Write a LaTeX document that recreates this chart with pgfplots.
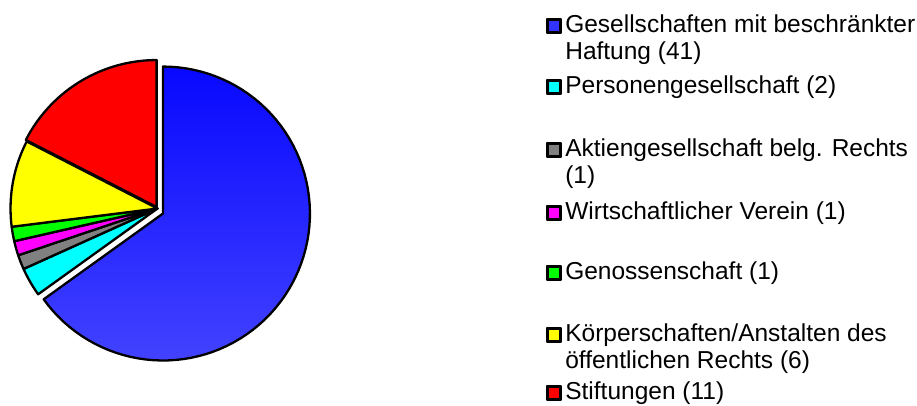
\documentclass[border=0pt]{standalone}
\usepackage{pgfplots}
\pgfplotsset{compat=1.18}
\usepackage{fontspec}
\setmainfont{Liberation Sans}
\definecolor{cBlueTop}{RGB}{8,8,255}
\definecolor{cBlueBot}{RGB}{66,66,255}
\definecolor{cBlue}{RGB}{51,51,255}
\definecolor{cCyan}{RGB}{0,255,255}
\definecolor{cGray}{RGB}{128,128,128}
\definecolor{cMag}{RGB}{255,0,255}
\definecolor{cGreen}{RGB}{0,255,0}
\definecolor{cYellow}{RGB}{255,255,0}
\definecolor{cRed}{RGB}{255,0,0}
% values (counts)
\def\vA{41}\def\vB{2}\def\vC{1}\def\vD{1}\def\vE{1}\def\vF{6}\def\vG{11}
\pgfmathsetmacro\total{\vA+\vB+\vC+\vD+\vE+\vF+\vG}
\pgfmathsetmacro\eA{90}
\pgfmathsetmacro\eB{\eA-360*\vA/\total}
\pgfmathsetmacro\eC{\eB-360*\vB/\total}
\pgfmathsetmacro\eD{\eC-360*\vC/\total}
\pgfmathsetmacro\eE{\eD-360*\vD/\total}
\pgfmathsetmacro\eF{\eE-360*\vE/\total}
\pgfmathsetmacro\eG{\eF-360*\vF/\total}
\pgfmathsetmacro\eH{\eG-360*\vG/\total}
\def\R{0.993}
\newcommand{\legtxt}[2]{\parbox[t][#1][t]{350pt}{\strut #2}}
\begin{document}
\begin{tikzpicture}
\begin{axis}[
  at={(157.5pt,196.5pt)}, anchor=center,
  scale only axis, width=325.6pt, height=325.6pt,
  xmin=-1.1, xmax=1.1, ymin=-1.1, ymax=1.1,
  hide axis, clip=false,
  every axis plot/.append style={draw=black, line width=2.3pt, line join=round, samples=80, variable=\t, forget plot},
  legend image code/.code={%
    \path (0pt,0pt) rectangle (14pt,14pt);
    \draw[#1, draw=black, line width=2pt] (1pt,1pt) rectangle (13pt,13pt);},
  legend style={draw=none, fill=none, inner sep=0pt, outer sep=0pt,
    at={(1.6932,1.0971)}, anchor=north west,
    row sep=0pt, column sep=3pt,
    cells={anchor=base west},
    nodes={inner sep=0pt, outer sep=0pt, text depth=, text height=},
    font=\fontsize{24.5}{27}\selectfont},
]
% Gesellschaften mbH (exploded)
\addplot[top color=cBlueTop, bottom color=cBlueBot, domain=\eB:\eA]
  ({0.037+\R*cos(\t)},{-0.034+\R*sin(\t)}) -- (axis cs:0.037,-0.034) -- cycle;
\addplot[fill=cCyan, domain=\eC:\eB] ({\R*cos(\t)},{\R*sin(\t)}) -- (axis cs:0,0) -- cycle;
\addplot[fill=cGray, domain=\eD:\eC] ({\R*cos(\t)},{\R*sin(\t)}) -- (axis cs:0,0) -- cycle;
\addplot[fill=cMag, domain=\eE:\eD] ({\R*cos(\t)},{\R*sin(\t)}) -- (axis cs:0,0) -- cycle;
\addplot[fill=cGreen, domain=\eF:\eE] ({\R*cos(\t)},{\R*sin(\t)}) -- (axis cs:0,0) -- cycle;
\addplot[fill=cYellow, domain=\eG:\eF] ({\R*cos(\t)},{\R*sin(\t)}) -- (axis cs:0,0) -- cycle;
\addplot[fill=cRed, domain=\eH:\eG]
  ({-0.006+\R*cos(\t)},{0.010+\R*sin(\t)}) -- (axis cs:-0.006,0.010) -- cycle;
% legend
\addlegendimage{fill=cBlue}
\addlegendentry{\legtxt{61pt}{Gesellschaften mit beschränkter\\Haftung (41)}}
\addlegendimage{fill=cCyan}
\addlegendentry{\legtxt{63pt}{Personengesellschaft (2)}}
\addlegendimage{fill=cGray}
\addlegendentry{\legtxt{63pt}{Aktiengesellschaft belg. Rechts\\(1)}}
\addlegendimage{fill=cMag}
\addlegendentry{\legtxt{60pt}{Wirtschaftlicher Verein (1)}}
\addlegendimage{fill=cGreen}
\addlegendentry{\legtxt{62pt}{Genossenschaft (1)}}
\addlegendimage{fill=cYellow}
\addlegendentry{\legtxt{58pt}{Körperschaften/Anstalten des\\öffentlichen Rechts (6)}}
\addlegendimage{fill=cRed}
\addlegendentry{\parbox[t]{350pt}{\strut Stiftungen (11)}}
\end{axis}
\pgfresetboundingbox
\path[use as bounding box] (0pt,0pt) rectangle (917pt,405pt);
\end{tikzpicture}
\end{document}
